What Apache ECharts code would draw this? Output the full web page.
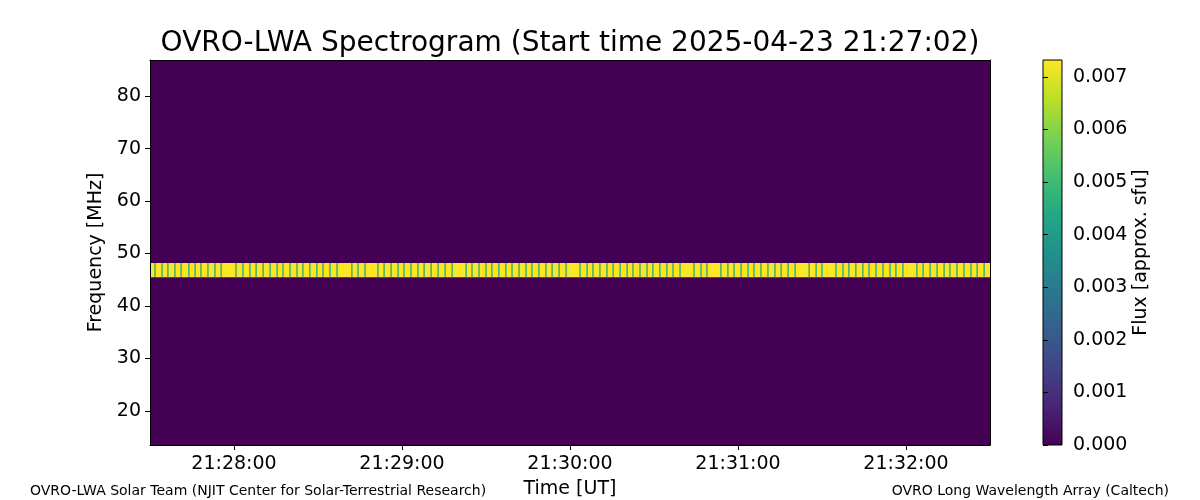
<!DOCTYPE html>
<html><head><meta charset="utf-8">
<script src="https://cdn.jsdelivr.net/npm/echarts@6/dist/echarts.min.js"></script>
<style>html,body{margin:0;padding:0;background:#fff}#c{width:1200px;height:500px}</style>
</head><body><div id="c"></div>
<script>
// ---- data ----
const titleText = 'OVRO-LWA Spectrogram (Start time 2025-04-23 21:27:02)';
const xName = 'Time [UT]';
const yName = 'Frequency [MHz]';
const cbName = 'Flux [approx. sfu]';
const footerLeft = 'OVRO-LWA Solar Team (NJIT Center for Solar-Terrestrial Research)';
const footerRight = 'OVRO Long Wavelength Array (Caltech)';
const timeRange = [30, 330];           // seconds after 21:27:00
const freqRange = [13.5, 86.9];        // MHz
const timeTicks = [60, 120, 180, 240, 300];
const timeTickLabels = ['21:28:00', '21:29:00', '21:30:00', '21:31:00', '21:32:00'];
const freqTicks = [20, 30, 40, 50, 60, 70, 80];
const fluxTicks = [0, 0.001, 0.002, 0.003, 0.004, 0.005, 0.006, 0.007];
const fluxMax = 0.00732;
const bandFreq = [45.5, 48.2];         // MHz
const bandFlux = 0.0073;
const dipFlux = 0.0042;
const dipWidth = 0.45;                 // seconds
const dipTimes = [31.8, 34.3, 36.4, 38.9, 41.1, 43.9, 46.1, 48.2, 50.7, 53.2, 55.4,
  60.7, 63.2, 65.7, 67.9, 70.4, 72.9, 75.4, 77.5, 80.0, 82.5, 84.6, 87.1, 89.6, 91.8, 94.3, 96.8,
  102.1, 104.3, 106.8, 111.4, 113.6, 116.1, 118.6, 120.7, 123.2, 125.7, 127.9, 130.4, 132.9, 135.4, 137.9,
  142.9, 145.0, 147.5, 150.0, 152.1, 154.6, 157.1, 159.3, 161.8, 164.3, 166.4, 168.9, 171.4, 173.6, 176.1, 178.6,
  183.6, 186.1, 188.2, 190.7, 193.2, 195.4, 197.9, 200.4, 202.5, 205.0, 207.5, 209.6, 212.1, 214.6, 216.8, 219.3,
  224.3, 226.8, 228.9, 233.9, 236.4, 238.6, 241.1, 243.6, 245.7, 248.2, 250.7, 253.2, 255.4, 257.9, 260.4,
  265.4, 267.9, 270.0, 275.0, 277.5, 279.6, 282.1, 284.6, 286.8, 289.3, 291.8, 294.3, 296.4, 298.9,
  303.9, 306.1, 308.6, 311.1, 313.6, 315.7, 318.2, 320.7, 323.2, 325.4, 327.9];
const viridis = ['#440154', '#482475', '#414487', '#355f8d', '#2a788e', '#21918c',
  '#22a884', '#44bf70', '#7ad151', '#bddf26', '#fde725'];

// ---- build cells ----
const cells = [];
cells.push([timeRange[0], timeRange[1], freqRange[0], freqRange[1], 0]);
cells.push([timeRange[0], timeRange[1], bandFreq[0], bandFreq[1], bandFlux]);
dipTimes.forEach(t => cells.push([t - dipWidth / 2, t + dipWidth / 2, bandFreq[0], bandFreq[1], dipFlux]));

const FONT = 'DejaVu Sans';
const chart = echarts.init(document.getElementById('c'), null, {renderer: 'canvas'});

function renderCell(params, api) {
  const p0 = api.coord([api.value(0), api.value(3)]);
  const p1 = api.coord([api.value(1), api.value(2)]);
  return {
    type: 'rect',
    shape: {x: p0[0], y: p0[1], width: p1[0] - p0[0], height: p1[1] - p0[1]},
    style: {fill: api.visual('color')}
  };
}
function renderBar(params, api) {
  const p0 = api.coord([0, api.value(1)]);
  const p1 = api.coord([1, api.value(0)]);
  const stops = viridis.map((c, i) => ({offset: i / (viridis.length - 1), color: c}));
  return {
    type: 'rect',
    shape: {x: p0[0], y: p0[1], width: p1[0] - p0[0], height: p1[1] - p0[1]},
    style: {fill: new echarts.graphic.LinearGradient(0, 1, 0, 0, stops), stroke: '#000', lineWidth: 1}
  };
}

const lbl = {color: '#000', fontFamily: FONT, fontSize: 19};
const tick = {show: true, length: 5, inside: false, lineStyle: {color: '#000', width: 1}};

chart.setOption({
  animation: false,
  backgroundColor: '#fff',
  title: {
    text: titleText, left: 570, top: 30, textAlign: 'center', padding: 0,
    textStyle: {fontFamily: FONT, fontSize: 28, fontWeight: 'normal', color: '#000'}
  },
  grid: [
    {left: 150, right: 210, top: 60, bottom: 55, containLabel: false, outerBoundsMode: 'none'},
    {left: 1043, width: 19, top: 60, bottom: 55, containLabel: false, outerBoundsMode: 'none'}
  ],
  visualMap: {
    show: false, type: 'continuous', seriesIndex: 0, dimension: 4,
    min: 0, max: fluxMax, inRange: {color: viridis}
  },
  xAxis: [
    {
      type: 'value', gridIndex: 0, min: timeRange[0], max: timeRange[1], z: 5,
      name: xName, nameLocation: 'middle', nameGap: 35,
      nameTextStyle: {fontFamily: FONT, fontSize: 19, color: '#000'},
      axisLine: {show: true, lineStyle: {color: '#000', width: 1}},
      axisTick: Object.assign({customValues: timeTicks}, tick),
      axisLabel: Object.assign({customValues: timeTicks, margin: 10,
        formatter: v => timeTickLabels[timeTicks.indexOf(v)]}, lbl),
      splitLine: {show: false}
    },
    {
      type: 'value', gridIndex: 0, position: 'top', min: timeRange[0], max: timeRange[1], z: 5,
      axisLine: {show: true, onZero: false, lineStyle: {color: '#000', width: 1}},
      axisTick: {show: false}, axisLabel: {show: false}, splitLine: {show: false}
    },
    {
      type: 'value', gridIndex: 1, min: 0, max: 1, show: false
    }
  ],
  yAxis: [
    {
      type: 'value', gridIndex: 0, min: freqRange[0], max: freqRange[1], z: 5,
      name: yName, nameLocation: 'middle', nameGap: 39, nameRotate: 90,
      nameTextStyle: {fontFamily: FONT, fontSize: 19, color: '#000'},
      axisLine: {show: true, lineStyle: {color: '#000', width: 1}},
      axisTick: Object.assign({customValues: freqTicks}, tick),
      axisLabel: Object.assign({customValues: freqTicks, margin: 9}, lbl),
      splitLine: {show: false}
    },
    {
      type: 'value', gridIndex: 0, position: 'right', min: freqRange[0], max: freqRange[1], z: 5,
      axisLine: {show: true, onZero: false, lineStyle: {color: '#000', width: 1}},
      axisTick: {show: false}, axisLabel: {show: false}, splitLine: {show: false}
    },
    {
      type: 'value', gridIndex: 1, position: 'right', min: 0, max: fluxMax, z: 5,
      name: cbName, nameLocation: 'middle', nameGap: 70, nameRotate: 90,
      nameTextStyle: {fontFamily: FONT, fontSize: 19, color: '#000'},
      axisLine: {show: false},
      axisTick: Object.assign({customValues: fluxTicks}, tick),
      axisLabel: Object.assign({customValues: fluxTicks, margin: 11,
        formatter: v => v.toFixed(3)}, lbl),
      splitLine: {show: false}
    }
  ],
  graphic: [
    {type: 'text', left: 30, top: 484, style: {text: footerLeft, fontFamily: FONT, fontSize: 14, fill: '#000'}},
    {type: 'text', right: 31, top: 484, style: {text: footerRight, fontFamily: FONT, fontSize: 14, fill: '#000'}}
  ],
  series: [
    {
      type: 'custom', xAxisIndex: 0, yAxisIndex: 0, z: 1, clip: true,
      renderItem: renderCell, data: cells, silent: true
    },
    {
      type: 'custom', xAxisIndex: 2, yAxisIndex: 2, z: 1,
      renderItem: renderBar, data: [[0, fluxMax]], silent: true
    }
  ]
});
</script></body></html>
